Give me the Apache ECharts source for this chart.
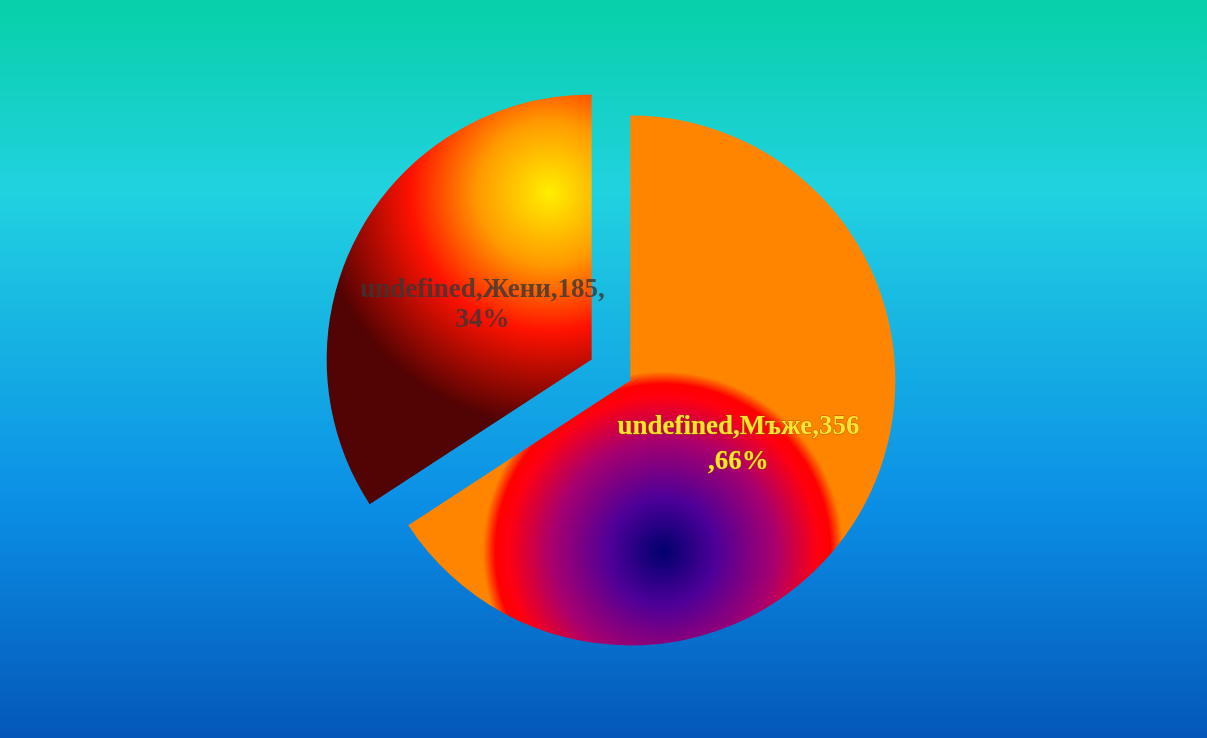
<!DOCTYPE html>
<html>
<head>
<meta charset="utf-8">
<script src="https://cdn.jsdelivr.net/npm/echarts@6/dist/echarts.min.js"></script>
<style>
  html, body { margin: 0; padding: 0; }
  #chart { width: 1207px; height: 738px; }
</style>
</head>
<body>
<div id="chart"></div>
<script>
// Gender split
const seriesTitle = 'undefined';
const categories = ['Мъже', 'Жени'];
const counts = [356, 185];

const LABEL_FONT_SIZE = 27;
const LABEL_FONT_FAMILY = 'Liberation Serif';
const LABEL_MAX_WIDTH = 246;

// Per-slice radial fills
const sliceFills = [
  {
    type: 'radial', x: 0.523, y: 0.823, r: 0.37,
    colorStops: [
      { offset: 0, color: '#00006e' },
      { offset: 0.3, color: '#4e0098' },
      { offset: 0.62, color: '#a8006e' },
      { offset: 0.86, color: '#ff0010' },
      { offset: 0.93, color: '#ff0000' },
      { offset: 1, color: '#ff8500' }
    ]
  },
  {
    type: 'radial', x: 0.84, y: 0.24, r: 0.9,
    colorStops: [
      { offset: 0, color: '#ffee00' },
      { offset: 0.3, color: '#ff9a00' },
      { offset: 0.58, color: '#ff1200' },
      { offset: 0.97, color: '#520303' },
      { offset: 1, color: '#520303' }
    ]
  }
];

// Greedy word wrap: commas and spaces end a word and stay as their own pieces
const measureCtx = document.createElement('canvas').getContext('2d');
measureCtx.font = `bold ${LABEL_FONT_SIZE}px ${LABEL_FONT_FAMILY}`;
function wrapLabel(text, maxWidth) {
  const pieces = text.match(/[^, ]+|[, ]/g) || [];
  const lines = [];
  let line = '';
  for (const piece of pieces) {
    const next = line + piece;
    if (line && measureCtx.measureText(next).width > maxWidth) {
      lines.push(line);
      line = piece;
    } else {
      line = next;
    }
  }
  if (line) lines.push(line);
  return lines.join('\n');
}

function labelText(p) {
  return wrapLabel(
    `${p.seriesName},${p.name},${p.value},${Math.round(p.percent)}%`,
    LABEL_MAX_WIDTH
  );
}

const labelStyles = [
  {
    color: '#ffe42e', textBorderColor: 'rgba(150,80,0,0.8)', textBorderWidth: 1,
    lineHeight: 35, padding: [0, 22, 0, 0]
  },
  {
    color: 'rgba(55,55,55,0.8)',
    lineHeight: 30, padding: [0, 0, 0, 20],
    // a thin spacer row on top nudges this label a little lower
    rich: { gap: { height: 20, fontSize: 1, lineHeight: 20 } },
    formatter: p => `{gap| }\n${labelText(p)}`
  }
];

const chart = echarts.init(document.getElementById('chart'));

chart.setOption({
  animation: false,
  backgroundColor: {
    type: 'linear', x: 0, y: 0, x2: 0, y2: 1,
    colorStops: [
      { offset: 0, color: '#07d0a8' },
      { offset: 0.26, color: '#21d2e0' },
      { offset: 0.68, color: '#0b8fe6' },
      { offset: 1, color: '#0457b8' }
    ]
  },
  series: [{
    name: seriesTitle,
    type: 'pie',
    center: [611, 370],
    radius: 265,
    selectedMode: 'multiple',
    selectedOffset: 22,
    label: {
      position: 'inside',
      fontFamily: LABEL_FONT_FAMILY,
      fontWeight: 'bold',
      fontSize: LABEL_FONT_SIZE,
      align: 'center',
      formatter: labelText
    },
    labelLine: { show: false },
    emphasis: { disabled: true },
    data: categories.map((name, i) => ({
      name,
      value: counts[i],
      selected: true,
      itemStyle: { color: sliceFills[i] },
      select: { itemStyle: { color: sliceFills[i], borderWidth: 0 } },
      label: labelStyles[i]
    }))
  }]
});
</script>
</body>
</html>
